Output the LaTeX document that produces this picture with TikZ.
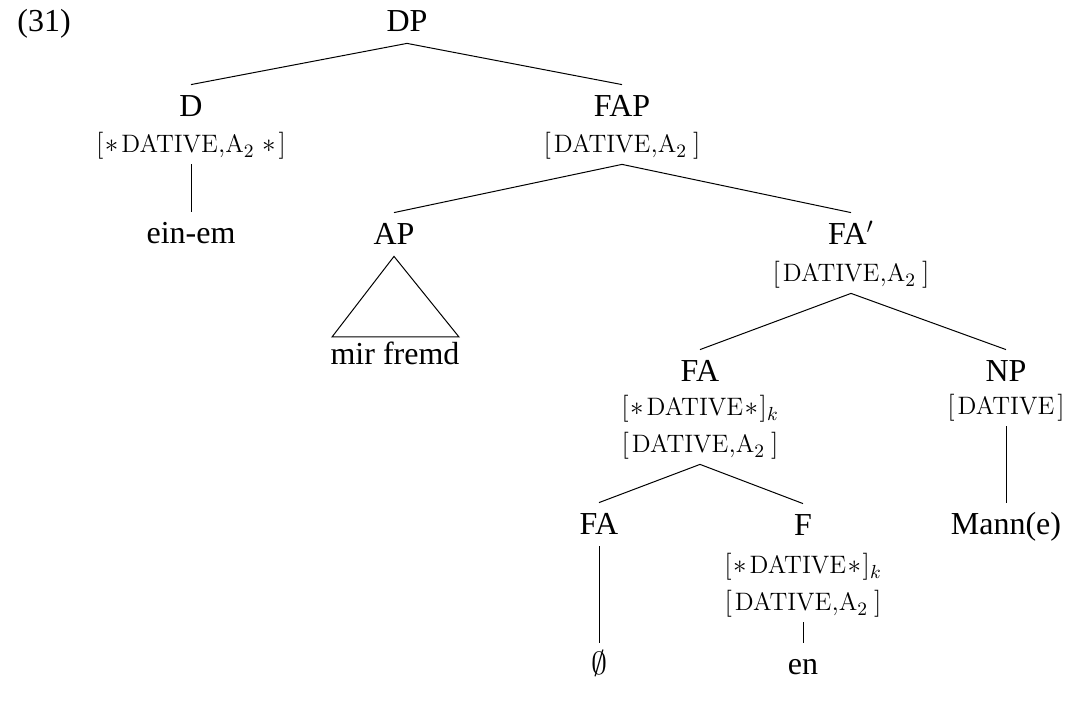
\RequirePackage{fix-cm}
\documentclass[tikz,border=0pt]{standalone}
\usepackage[no-math]{fontspec}
\setmainfont{Liberation Serif}
\newcommand{\ft}[1]{{\fontfamily{lmr}\fontsize{12.6}{14}\selectfont #1}}
\begin{document}
\begin{tikzpicture}[x=0.5pt,y=-0.5pt,
  lab/.style={font=\fontsize{16}{19}\selectfont, anchor=base, inner xsep=0pt, inner ysep=5.5pt, text height=10.5pt, text depth=0pt},
  feat/.style={lab, font=\fontsize{13.5}{16}\selectfont},
  edge/.style={line width=0.5pt}]
\useasboundingbox (0,0) rectangle (1066,704);
\node[lab, anchor=base west] (ex) at (17,32) {(31)};
\node[lab] (dp) at (407,32) {DP};
\node[lab] (d) at (191,117) {D};
\node[feat] (df) at (191,153) {$[\mkern1mu{\ast}\mkern2mu$\ft{DATIVE}$,$\ft{A}$_2\mkern5mu{\ast}\mkern2mu]$};
\node[lab] (einem) at (191,244) {ein-em};
\node[lab] (fap) at (622,117) {FAP};
\node[feat] (fapf) at (622,153) {$[\mkern2mu$\ft{DATIVE}$,$\ft{A}$_2\mkern4mu]$};
\node[lab] (ap) at (394,245) {AP};
\node[lab] (mf) at (395,365) {mir fremd};
\node[lab] (fab) at (851,245) {FA$'$};
\node[feat] (fabf) at (851,282) {$[\mkern2mu$\ft{DATIVE}$,$\ft{A}$_2\mkern4mu]$};
\node[lab] (fa) at (700,382) {FA};
\node[feat] (faf1) at (700,416) {$[\mkern1mu{\ast}\mkern2mu$\ft{DATIVE}$\mkern1mu{\ast}\mkern1mu]_k$};
\node[feat] (faf2) at (700,453) {$[\mkern2mu$\ft{DATIVE}$,$\ft{A}$_2\mkern4mu]$};
\node[lab] (np) at (1006,382) {NP};
\node[feat] (npf) at (1006,415) {$[\mkern2mu$\ft{DATIVE}$\mkern2mu]$};
\node[lab] (fal) at (599,535) {FA};
\node[lab] (f) at (803,536) {F};
\node[feat] (ff1) at (803,574) {$[\mkern1mu{\ast}\mkern2mu$\ft{DATIVE}$\mkern1mu{\ast}\mkern1mu]_k$};
\node[feat] (ff2) at (803,611) {$[\mkern2mu$\ft{DATIVE}$,$\ft{A}$_2\mkern4mu]$};
\node[lab] (mann) at (1006,535) {Mann(e)};
\node[lab] (empty) at (599,675) {$\emptyset$};
\node[lab] (en) at (803,675) {en};
\draw[edge] (dp.south) -- (d.north);
\draw[edge] (dp.south) -- (fap.north);
\draw[edge] (df.south) -- (einem.north);
\draw[edge] (fapf.south) -- (ap.north);
\draw[edge] (fapf.south) -- (fab.north);
\draw[edge] (ap.south) -- (332,337) -- (459,337) -- cycle;
\draw[edge] (fabf.south) -- (fa.north);
\draw[edge] (fabf.south) -- (np.north);
\draw[edge] (faf2.south) -- (fal.north);
\draw[edge] (faf2.south) -- (f.north);
\draw[edge] (npf.south) -- (mann.north);
\draw[edge] (fal.south) -- (empty.north);
\draw[edge] (ff2.south) -- (en.north);
\end{tikzpicture}
\end{document}
